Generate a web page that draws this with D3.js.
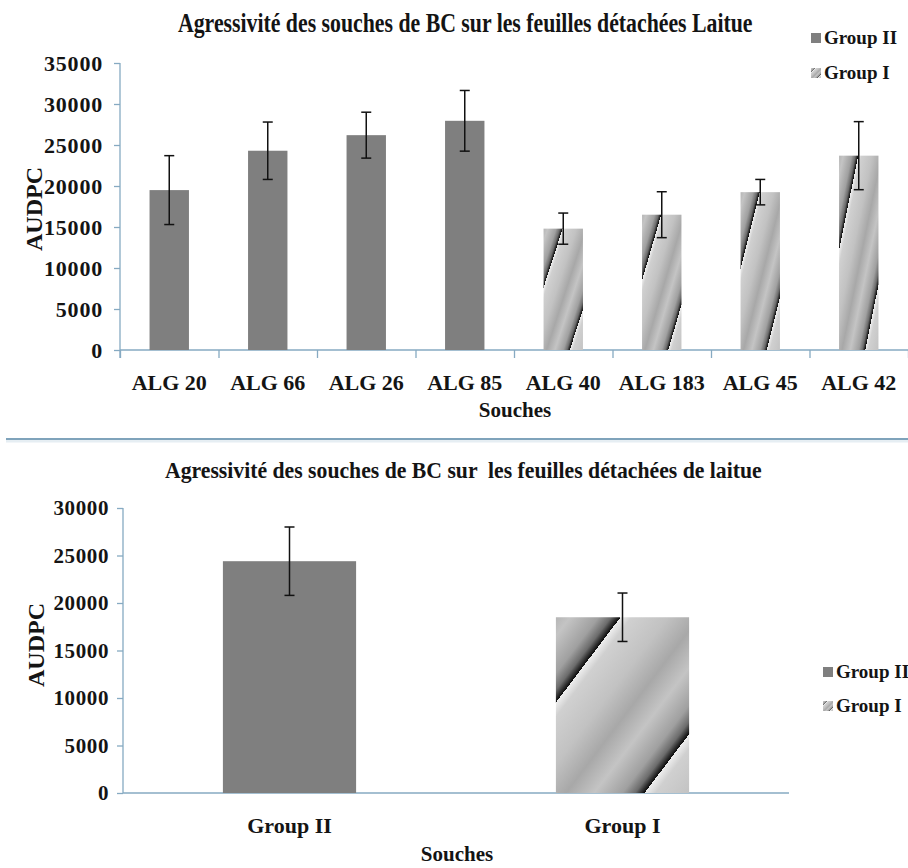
<!DOCTYPE html>
<html>
<head>
  <meta charset="utf-8">
  <title>AUDPC souches BC</title>
  <script src="https://d3js.org/d3.v7.min.js"></script>
  <style>
    body { margin: 0; background: #fff; }
    svg text { font-family: "Liberation Serif", "Times New Roman", serif; font-weight: bold; fill: #141414; }
    .axis path, .axis line { stroke: #86aac2; stroke-width: 1.3; }
  </style>
</head>
<body>
<svg id="chart" width="908" height="868"></svg>
<script>
// données
var strains = ["ALG 20", "ALG 66", "ALG 26", "ALG 85", "ALG 40", "ALG 183", "ALG 45", "ALG 42"];
var strainGroup = ["Group II", "Group II", "Group II", "Group II", "Group I", "Group I", "Group I", "Group I"];
var strainMeans = [19500, 24300, 26200, 27950, 14800, 16500, 19250, 23700];
var strainErrors = [4200, 3500, 2800, 3700, 1900, 2800, 1550, 4150];

var groups = ["Group II", "Group I"];
var groupMeans = [24400, 18500];
var groupErrors = [3600, 2550];

var topTicks = [0, 5000, 10000, 15000, 20000, 25000, 30000, 35000];
var bottomTicks = [0, 5000, 10000, 15000, 20000, 25000, 30000];

var svg = d3.select("#chart");
var defs = svg.append("defs");

// remplissage "Group I" : dégradé en bandes diagonales
var grad = defs.append("linearGradient")
  .attr("id", "grpI")
  .attr("gradientUnits", "objectBoundingBox")
  .attr("spreadMethod", "repeat")
  .attr("x1", 0.2425).attr("y1", 0.2425)
  .attr("x2", 0.2425 + 0.59).attr("y2", 0.2425 + 0.59);
[[0, "#eeeeee"], [0.07, "#d0d0d0"], [0.3, "#c2c2c2"], [0.5, "#a8a8a8"],
 [0.68, "#c4c4c4"], [0.86, "#a0a0a0"], [0.94, "#6c6c6c"], [0.98, "#2a2a2a"], [1, "#0c0c0c"]]
  .forEach(function (s) {
    grad.append("stop").attr("offset", s[0]).attr("stop-color", s[1]);
  });

function fillFor(g) { return g == "Group II" ? "#7f7f7f" : "url(#grpI)"; }

// titre condensé : on resserre horizontalement pour tenir dans la largeur voulue
function title(x, y, size, width, txt) {
  var t = svg.append("text")
    .style("font-size", size + "px")
    .style("white-space", "pre")
    .text(txt);
  var k = width / t.node().getComputedTextLength();
  t.attr("transform", "translate(" + x + "," + y + ") scale(" + k + ",1)");
}

function legend(x, y, gap) {
  var lg = svg.append("g").attr("transform", "translate(" + x + "," + y + ")");
  groups.forEach(function (g, i) {
    lg.append("rect")
      .attr("x", 0).attr("y", i * gap - 11)
      .attr("width", 10).attr("height", 10)
      .attr("fill", fillFor(g));
    lg.append("text")
      .attr("x", 13).attr("y", i * gap)
      .style("font-size", "19px")
      .text(g);
  });
}

function errorBars(sel, xc, y, means, errs) {
  sel.append("line")
    .attr("x1", xc).attr("x2", xc)
    .attr("y1", function (d, i) { return y(means[i] + errs[i]); })
    .attr("y2", function (d, i) { return y(means[i] - errs[i]); })
    .attr("stroke", "#111").attr("stroke-width", 1.5);
  [1, -1].forEach(function (sgn) {
    sel.append("line")
      .attr("x1", function (d) { return xc(d) - 5; })
      .attr("x2", function (d) { return xc(d) + 5; })
      .attr("y1", function (d, i) { return y(means[i] + sgn * errs[i]); })
      .attr("y2", function (d, i) { return y(means[i] + sgn * errs[i]); })
      .attr("stroke", "#111").attr("stroke-width", 1.5);
  });
}

// ---------- graphique du haut ----------
var x1 = d3.scaleBand().domain(strains).range([120, 908]).paddingInner(0.6).paddingOuter(0.3);
var y1 = d3.scaleLinear().domain([0, 35000]).range([350, 63]);
var idx1 = d3.scaleLinear().domain([0, strains.length]).range([120, 908]);

title(178, 32, 27, 575, "Agressivité des souches de BC sur les feuilles détachées Laitue");

svg.append("g").attr("class", "axis")
  .attr("transform", "translate(120,0)")
  .call(d3.axisLeft(y1).tickValues(topTicks).tickSize(6).tickPadding(11).tickFormat(d3.format("d")))
  .call(function (g) { g.select(".domain").attr("d", "M0,63V358"); })
  .selectAll("text").style("font-size", "22px").style("letter-spacing", "0.8px").style("font-family", null);

svg.append("g").attr("class", "axis")
  .attr("transform", "translate(0,350)")
  .call(d3.axisBottom(idx1).ticks(strains.length).tickSize(8).tickFormat(""))
  .call(function (g) { g.select(".domain").attr("d", "M120,0H908"); });

svg.append("g")
  .attr("transform", "translate(0,350)")
  .call(d3.axisBottom(x1).tickSize(0).tickPadding(24))
  .call(function (g) { g.select(".domain").remove(); })
  .selectAll("text").style("font-size", "22px").style("font-family", null);

svg.append("g").selectAll("rect")
  .data(strains).enter().append("rect")
  .attr("x", function (d) { return x1(d); })
  .attr("width", x1.bandwidth())
  .attr("y", function (d, i) { return y1(strainMeans[i]); })
  .attr("height", function (d, i) { return y1(0) - y1(strainMeans[i]); })
  .attr("fill", function (d, i) { return fillFor(strainGroup[i]); });

errorBars(svg.append("g").selectAll("g").data(strains).enter().append("g"),
  function (d) { return x1(d) + x1.bandwidth() / 2; }, y1, strainMeans, strainErrors);

svg.append("text")
  .attr("transform", "translate(42,209) rotate(-90)")
  .attr("text-anchor", "middle")
  .style("font-size", "24px")
  .text("AUDPC");

svg.append("text")
  .attr("x", 515).attr("y", 417)
  .attr("text-anchor", "middle")
  .style("font-size", "21px")
  .text("Souches");

legend(811, 44, 35);

// séparateur
svg.append("line")
  .attr("x1", 6).attr("x2", 908).attr("y1", 441).attr("y2", 441)
  .attr("stroke", "#e6eef3").attr("stroke-width", 3);
svg.append("line")
  .attr("x1", 6).attr("x2", 908).attr("y1", 439).attr("y2", 439)
  .attr("stroke", "#7fa3bb").attr("stroke-width", 2);

// ---------- graphique du bas ----------
var x2 = d3.scaleBand().domain(groups).range([123, 789]).paddingInner(0.6).paddingOuter(0.3);
var y2 = d3.scaleLinear().domain([0, 30000]).range([793, 508]);

title(165, 478, 24, 597, "Agressivité des souches de BC sur  les feuilles détachées de laitue");

svg.append("g").attr("class", "axis")
  .attr("transform", "translate(123,0)")
  .call(d3.axisLeft(y2).tickValues(bottomTicks).tickSize(6).tickPadding(8).tickFormat(d3.format("d")))
  .call(function (g) { g.select(".domain").attr("d", "M0,508V793"); })
  .selectAll("text").style("font-size", "21px").style("letter-spacing", "0.6px").style("font-family", null);

svg.append("g").attr("class", "axis")
  .attr("transform", "translate(0,793)")
  .call(d3.axisBottom(x2).tickSize(0).tickPadding(24))
  .call(function (g) { g.select(".domain").attr("d", "M123,0H789"); })
  .selectAll("text").style("font-size", "22px").style("font-family", null);

svg.append("g").selectAll("rect")
  .data(groups).enter().append("rect")
  .attr("x", function (d) { return x2(d); })
  .attr("width", x2.bandwidth())
  .attr("y", function (d, i) { return y2(groupMeans[i]); })
  .attr("height", function (d, i) { return y2(0) - y2(groupMeans[i]); })
  .attr("fill", function (d) { return fillFor(d); });

errorBars(svg.append("g").selectAll("g").data(groups).enter().append("g"),
  function (d) { return x2(d) + x2.bandwidth() / 2; }, y2, groupMeans, groupErrors);

svg.append("text")
  .attr("transform", "translate(44,645) rotate(-90)")
  .attr("text-anchor", "middle")
  .style("font-size", "24px")
  .text("AUDPC");

svg.append("text")
  .attr("x", 457).attr("y", 861)
  .attr("text-anchor", "middle")
  .style("font-size", "21px")
  .text("Souches");

legend(823, 678, 34);
</script>
</body>
</html>
